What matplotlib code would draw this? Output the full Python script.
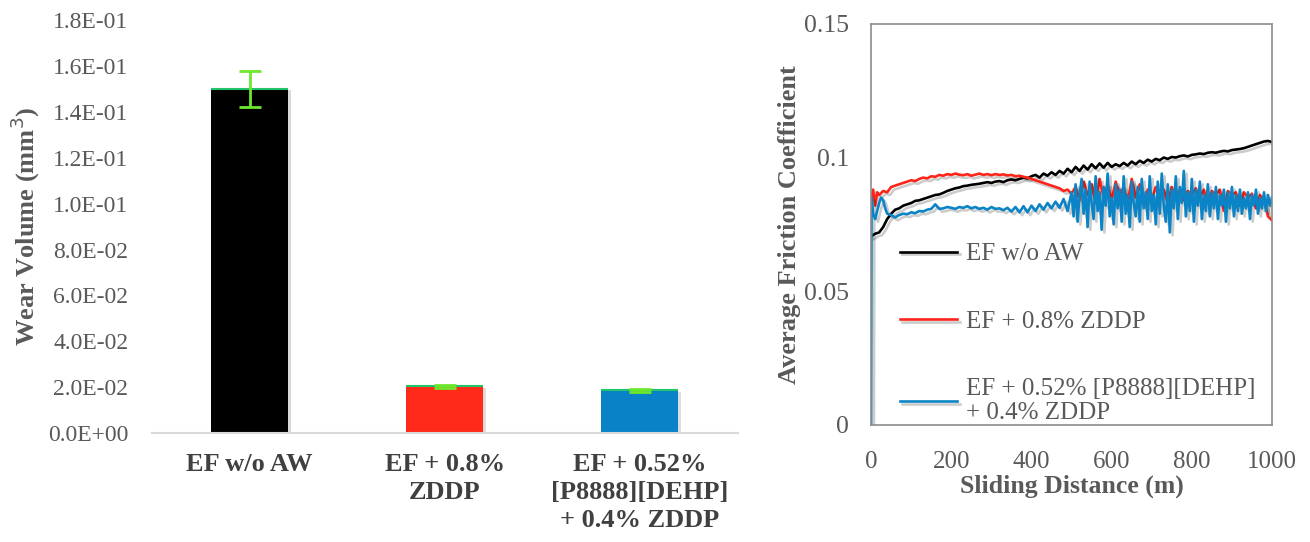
import numpy as np
import matplotlib
matplotlib.use("Agg")
import matplotlib.pyplot as plt
import matplotlib.patheffects as pe

plt.rcParams['font.family'] = ['Liberation Serif', 'DejaVu Serif']

# ---- wear volume bars ----
samples = ["EF w/o AW", "EF + 0.8%\nZDDP", "EF + 0.52%\n[P8888][DEHP]\n+ 0.4% ZDDP"]
wear = [0.1500, 0.0203, 0.0187]
wear_err = [0.0077, 0.0006, 0.0006]
bar_colors = ["#000000", "#ff2a1a", "#0a82c8"]

# ---- friction traces ----
dist_black = [0, 10, 20, 30, 40, 50, 60, 70, 80, 90, 100, 110, 120, 130, 140, 150, 160, 170, 180, 190,
              200, 210, 220, 230, 240, 250, 260, 270, 280, 290, 300, 310, 320, 330, 340, 350, 360, 370, 380, 390,
              400, 410, 420, 430, 440, 450, 460, 470, 480, 490, 500, 510, 520, 530, 540, 550, 560, 570, 580, 590,
              600, 610, 620, 630, 640, 650, 660, 670, 680, 690, 700, 710, 720, 730, 740, 750, 760, 770, 780, 790,
              800, 810, 820, 830, 840, 850, 860, 870, 880, 890, 900, 910, 920, 930, 940, 950, 960, 970, 980, 990, 1000]
mu_black = [0.0705, 0.0715, 0.072, 0.074, 0.077, 0.079, 0.0805, 0.081, 0.082, 0.0825,
            0.083, 0.0838, 0.084, 0.0845, 0.085, 0.0855, 0.086, 0.0862, 0.0868, 0.0875,
            0.088, 0.0885, 0.0888, 0.0893, 0.0895, 0.0898, 0.090, 0.0902, 0.0905, 0.0908,
            0.0905, 0.091, 0.0912, 0.0908, 0.0915, 0.0918, 0.0915, 0.092, 0.0925, 0.0922,
            0.093, 0.0935, 0.0925, 0.094, 0.0932, 0.0945, 0.0935, 0.095, 0.094, 0.0958,
            0.0945, 0.0965, 0.095, 0.097, 0.0955, 0.0975, 0.096, 0.0978, 0.0962, 0.098,
            0.0965, 0.0975, 0.0968, 0.098, 0.097, 0.0985, 0.0975, 0.0988, 0.098, 0.0992,
            0.0985, 0.0995, 0.099, 0.100, 0.0995, 0.1002, 0.100, 0.1005, 0.1008, 0.1004,
            0.101, 0.1012, 0.1015, 0.1013, 0.1018, 0.102, 0.1018, 0.1022, 0.1025, 0.1023,
            0.1028, 0.103, 0.1032, 0.1035, 0.104, 0.1045, 0.105, 0.1055, 0.106, 0.1062, 0.1058]

dist_red = [0, 5, 10, 15, 20, 30, 40, 50, 60, 70, 80, 90, 100, 110, 120, 130, 140, 150, 160, 170, 180, 190,
            200, 210, 220, 230, 240, 250, 260, 270, 280, 290, 300, 310, 320, 330, 340, 350, 360, 370, 380, 390,
            400, 410, 420, 430, 440, 450, 460, 470, 480, 490, 500, 510, 520, 530, 540, 550, 560, 570, 580, 590,
            600, 610, 620, 630, 640, 650, 660, 670, 680, 690, 700, 710, 720, 730, 740, 750, 760, 770, 780, 790,
            800, 810, 820, 830, 840, 850, 860, 870, 880, 890, 900, 910, 920, 930, 940, 950, 960, 970, 980, 990, 1000]
mu_red = [0.085, 0.088, 0.082, 0.087, 0.086, 0.0875, 0.087, 0.089, 0.0895, 0.090, 0.0905, 0.091,
          0.0915, 0.0912, 0.092, 0.0925, 0.0922, 0.093, 0.0928, 0.0935, 0.0932, 0.0938,
          0.0935, 0.094, 0.0936, 0.0934, 0.0938, 0.0932, 0.0936, 0.094, 0.0935, 0.0938,
          0.0934, 0.0938, 0.0935, 0.0937, 0.0933, 0.0935, 0.093, 0.0932, 0.0928, 0.0925,
          0.092, 0.0915, 0.091, 0.0905, 0.090, 0.0895, 0.089, 0.0885, 0.0875, 0.088,
          0.0865, 0.089, 0.084, 0.091, 0.086, 0.090, 0.083, 0.092, 0.085, 0.090,
          0.084, 0.091, 0.086, 0.089, 0.083, 0.092, 0.085, 0.090, 0.082, 0.088,
          0.084, 0.089, 0.085, 0.088, 0.083, 0.089, 0.085, 0.088, 0.084, 0.0875,
          0.086, 0.0885, 0.085, 0.088, 0.083, 0.0875, 0.086, 0.088, 0.080, 0.0875,
          0.086, 0.087, 0.082, 0.087, 0.085, 0.0865, 0.081, 0.086, 0.084, 0.078, 0.0765]

dist_blue = [0, 1, 5, 10, 15, 20, 25, 30, 35, 40, 50, 60, 70, 80, 90, 100, 110, 120, 130, 140, 150, 160,
             170, 180, 190, 200, 210, 220, 230, 240, 250, 260, 270, 280, 290, 300, 310, 320, 330, 340, 350,
             360, 370, 380, 390, 400, 410, 420, 430, 440, 450, 460, 470, 480, 490,
             500, 505, 510, 515, 520, 525, 530, 535, 540, 545, 550, 555, 560, 565, 570, 575, 580, 585, 590, 595,
             600, 605, 610, 615, 620, 625, 630, 635, 640, 645, 650, 655, 660, 665, 670, 675, 680, 685, 690, 695,
             700, 705, 710, 715, 720, 725, 730, 735, 740, 745, 750, 755, 760, 765, 770, 775, 780, 785, 790, 795,
             800, 805, 810, 815, 820, 825, 830, 835, 840, 845, 850, 855, 860, 865, 870, 875, 880, 885, 890, 895,
             900, 905, 910, 915, 920, 925, 930, 935, 940, 945, 950, 955, 960, 965, 970, 975, 980, 985, 990, 995, 1000]
mu_blue = [0.0, 0.085, 0.079, 0.077, 0.080, 0.083, 0.085, 0.084, 0.081, 0.079, 0.0785, 0.0776,
           0.0785, 0.079, 0.0788, 0.0795, 0.0792, 0.080, 0.0798, 0.0805, 0.0808, 0.0825,
           0.0808, 0.081, 0.0815, 0.0812, 0.0808, 0.0815, 0.0812, 0.0818, 0.081, 0.0815,
           0.0808, 0.0812, 0.0805, 0.0815, 0.0808, 0.081, 0.0803, 0.0812, 0.0798,
           0.0815, 0.0795, 0.0818, 0.0795, 0.082, 0.080, 0.0825, 0.0805, 0.083, 0.081,
           0.0835, 0.0812, 0.0845, 0.080,
           0.087, 0.078, 0.090, 0.076, 0.086, 0.092, 0.079, 0.088, 0.074, 0.091,
           0.083, 0.077, 0.093, 0.080, 0.087, 0.073, 0.089, 0.082, 0.094, 0.078,
           0.085, 0.075, 0.090, 0.081, 0.088, 0.076, 0.093, 0.079, 0.086, 0.074,
           0.091, 0.083, 0.078, 0.089, 0.076, 0.092, 0.081, 0.087, 0.077, 0.093,
           0.080, 0.086, 0.075, 0.091, 0.079, 0.094, 0.082, 0.076, 0.090, 0.072,
           0.088, 0.081, 0.093, 0.077, 0.089, 0.083, 0.095, 0.078, 0.087, 0.080,
           0.092, 0.076, 0.088, 0.082, 0.091, 0.077, 0.086, 0.080, 0.090, 0.078,
           0.087, 0.081, 0.089, 0.077, 0.086, 0.082, 0.088, 0.076, 0.087, 0.081,
           0.089, 0.078, 0.086, 0.080, 0.088, 0.079, 0.085, 0.081, 0.087, 0.077,
           0.086, 0.082, 0.088, 0.079, 0.085, 0.081, 0.087, 0.080, 0.086, 0.082, 0.085]

trace_labels = ["EF w/o AW", "EF + 0.8% ZDDP", "EF + 0.52% [P8888][DEHP]\n+ 0.4% ZDDP"]
trace_colors = ["#000000", "#ff2418", "#0a84c6"]

tick_col = "#595959"
fig = plt.figure(figsize=(13.1, 5.42), dpi=100)

# left: bar chart
ax1 = fig.add_axes([0.116, 0.201, 0.447, 0.762])
x = np.arange(len(samples))
shadow = [pe.SimplePatchShadow(offset=(2, -1), alpha=0.15), pe.Normal()]
bars = ax1.bar(x, wear, width=0.394, color=bar_colors, zorder=2)
for b in bars:
    b.set_path_effects(shadow)
ax1.hlines(wear, x - 0.197, x + 0.197, color="#22c46a", lw=1.5, zorder=3)
ax1.errorbar(x, wear, yerr=wear_err, fmt="none", ecolor="#6ee82a", elinewidth=2,
             capsize=8, capthick=2, zorder=4)
ax1.set_xlim(-0.5, 2.5)
ax1.set_ylim(0, 0.18)
ax1.set_yticks(np.arange(0, 0.181, 0.02))
ax1.set_yticklabels([f"{v:.1E}" for v in np.arange(0, 0.181, 0.02)])
ax1.set_xticks(x)
ax1.set_xticklabels(samples, fontweight="bold", color="#404040", fontsize=19)
for t in ax1.get_xticklabels():
    t.set_linespacing(1.3)
for s in ["top", "right", "left"]:
    ax1.spines[s].set_visible(False)
ax1.spines["bottom"].set_color("#d9d9d9")
ax1.spines["bottom"].set_linewidth(1.5)
ax1.tick_params(axis="y", length=0, pad=17, labelsize=17, labelcolor=tick_col)
ax1.tick_params(axis="x", length=0, pad=14)
ax1.set_ylabel("Wear Volume (mm$^3$)", fontsize=19, fontweight="bold", color=tick_col, labelpad=4)

# right: friction curves
ax2 = fig.add_axes([0.665, 0.216, 0.306, 0.740])
line_shadow = [pe.SimpleLineShadow(offset=(2, -2), alpha=0.2), pe.Normal()]
for d, mu, lab, c in zip([dist_black, dist_red, dist_blue], [mu_black, mu_red, mu_blue],
                         trace_labels, trace_colors):
    ax2.plot(d, mu, color=c, lw=1.9, label=lab, path_effects=line_shadow)
ax2.set_xlim(0, 1000)
ax2.set_ylim(0, 0.15)
ax2.set_xticks([0, 200, 400, 600, 800, 1000])
ax2.set_yticks([0, 0.05, 0.1, 0.15])
ax2.set_yticklabels(["0", "0.05", "0.1", "0.15"])
for s in ax2.spines.values():
    s.set_color("#8c8c8c")
    s.set_linewidth(1.2)
ax2.tick_params(axis="y", length=0, pad=16, labelsize=18.5, labelcolor=tick_col)
ax2.tick_params(axis="x", length=0, pad=19, labelsize=18, labelcolor=tick_col)
ax2.set_xlabel("Sliding Distance (m)", fontsize=18.5, fontweight="bold", color=tick_col, labelpad=1)
ax2.set_ylabel("Average Friction Coefficient", fontsize=19, fontweight="bold", color=tick_col, labelpad=2)
leg = ax2.legend(loc="upper left", bbox_to_anchor=(0.04, 0.485), frameon=False, fontsize=18,
                 handlelength=2.3, handletextpad=0.35, labelspacing=1.8, borderpad=0)
for t in leg.get_texts():
    t.set_color(tick_col)
    t.set_linespacing(1.15)

fig.savefig("out.png", dpi=100)
